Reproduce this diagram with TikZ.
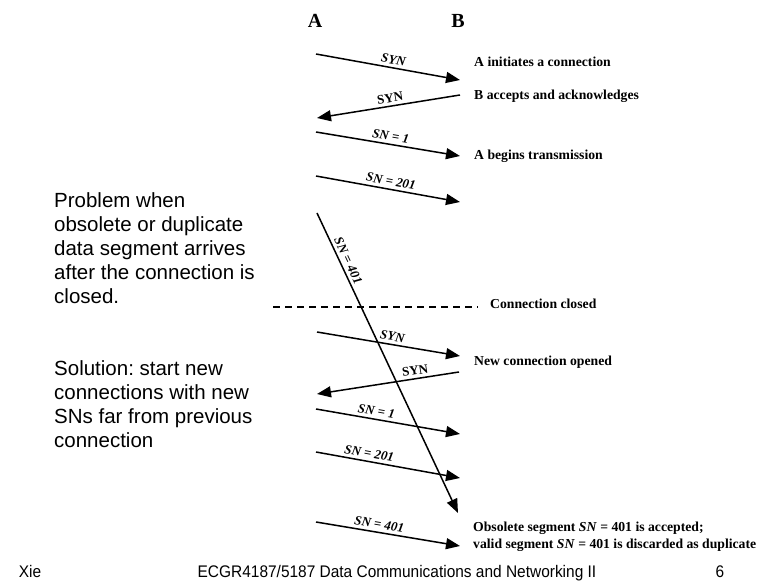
\documentclass[tikz,border=0pt]{standalone}
\usepackage{fontspec}
\setmainfont{Liberation Serif}
\setsansfont{Liberation Sans}
\newfontfamily\narrowsans[FakeStretch=0.92]{Liberation Sans}
\usetikzlibrary{arrows.meta}
\frenchspacing
\tikzset{
  host/.style={font=\fontsize{20}{24}\selectfont\bfseries, anchor=base, inner sep=0pt},
  msg/.style={-{Triangle[length=14pt,width=11pt]}, line width=1.5pt},
  cut/.style={line width=1.5pt, dash pattern=on 7pt off 5pt},
  lbl/.style={font=\fontsize{13}{15}\selectfont\bfseries, sloped, above=2pt, inner sep=1pt},
  note/.style={font=\fontsize{13.7}{16}\selectfont\bfseries, anchor=base west, inner sep=0pt},
  side/.style={font=\sffamily\fontsize{20.5}{24}\selectfont, align=left, anchor=north west, inner sep=0pt},
  foot/.style={font=\narrowsans\fontsize{16.8}{20}\selectfont, anchor=base, inner sep=0pt},
}
\begin{document}
\begin{tikzpicture}[x=1pt,y=-1pt]
  \useasboundingbox (0,0) rectangle (772,588);
  % hosts
  \node[host] (hA) at (315,28) {A};
  \node[host] (hB) at (458,28) {B};
  % first connection
  \coordinate (a1) at (316,54);  \coordinate (b1) at (460,80);
  \coordinate (b2) at (460,95);  \coordinate (a2) at (317,118);
  \coordinate (a3) at (316,132); \coordinate (b3) at (460,156);
  \coordinate (a4) at (316,176); \coordinate (b4) at (460,202);
  \draw[msg] (a1) -- node[lbl, pos=.53] (l1) {\textit{SYN}} (b1);
  \draw[msg] (b2) -- node[lbl, pos=.48] (l2) {SYN} (a2);
  \draw[msg] (a3) -- node[lbl, pos=.51] (l3) {\textit{SN = 1}} (b3);
  \draw[msg] (a4) -- node[lbl, pos=.51] (l4) {\textit{SN = 201}} (b4);
  \node[note] (n1) at (474,67) {A initiates a connection};
  \node[note] (n2) at (474,100) {B accepts and acknowledges};
  \node[note] (n3) at (474,160) {A begins transmission};
  % late duplicate
  \coordinate (d0) at (317,213); \coordinate (d1) at (458,513);
  \draw[msg] (d0) -- node[lbl, pos=.17] (l0) {\textit{SN = 401}} (d1);
  % close
  \coordinate (c0) at (273,307); \coordinate (c1) at (478,307);
  \draw[cut] (c0) -- (c1);
  \node[note] (n4) at (490,309) {Connection closed};
  % second connection
  \coordinate (a5) at (317,332); \coordinate (b5) at (460,356);
  \coordinate (b6) at (459,372); \coordinate (a6) at (317,394);
  \coordinate (a7) at (316,409); \coordinate (b7) at (460,434);
  \coordinate (a8) at (316,452); \coordinate (b8) at (460,478);
  \coordinate (a9) at (316,522); \coordinate (b9) at (460,546);
  \draw[msg] (a5) -- node[lbl, pos=.52] (l5) {\textit{SYN}} (b5);
  \draw[msg] (b6) -- node[lbl, pos=.30] (l6) {SYN} (a6);
  \draw[msg] (a7) -- node[lbl, pos=.41] (l7) {\textit{SN = 1}} (b7);
  \draw[msg] (a8) -- node[lbl, pos=.36] (l8) {\textit{SN = 201}} (b8);
  \draw[msg] (a9) -- node[lbl, pos=.43] (l9) {\textit{SN = 401}} (b9);
  \node[note] (n5) at (474,366) {New connection opened};
  \node[note] (n6) at (473,531) {Obsolete segment \textit{SN} = 401 is accepted;};
  \node[note] (n7) at (473,548) {valid segment \textit{SN} = 401 is discarded as duplicate};
  % side text
  \node[side] (prob) at (54,192) {Problem when\\obsolete or duplicate\\data segment arrives\\after the connection is\\closed.};
  \node[side] (sol) at (54,360) {Solution: start new\\connections with new\\SNs far from previous\\connection};
  % footer
  \node[foot] (auth) at (30,577) {Xie};
  \node[foot] (course) at (397,577) {ECGR4187/5187 Data Communications and Networking II};
  \node[foot] (page) at (720,577) {6};
\end{tikzpicture}
\end{document}
